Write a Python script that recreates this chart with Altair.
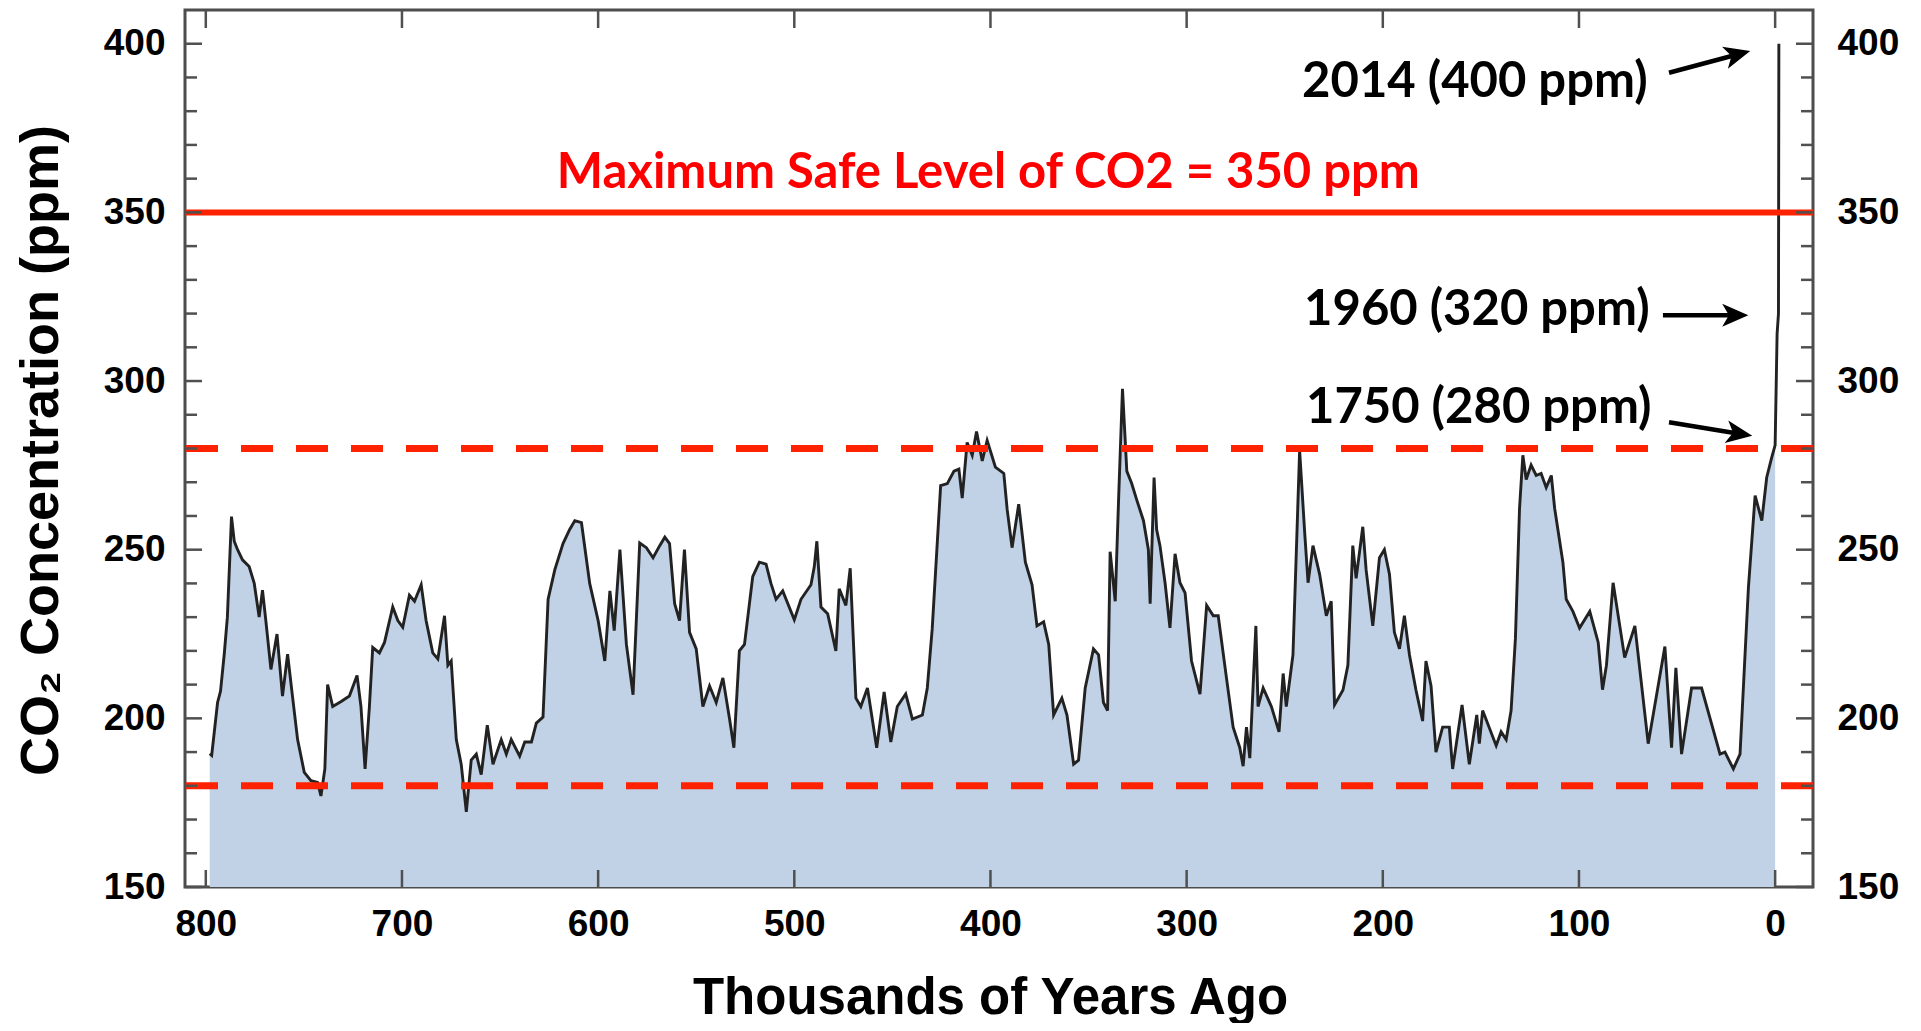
import altair as alt
import pandas as pd

# ---------------- data ----------------
kyr = [798, 797, 794, 792.5, 790.6, 789, 786.9, 785.5, 783.8, 781.3, 777.9, 775.3, 772.8, 771.1, 769.4,
       766.8, 763.7, 760.9, 758.3, 755.7, 753.2, 749.8, 746.4, 743, 741.3, 739.3, 737.9, 735.3, 731, 726.8,
       722.9, 720.9, 718.8, 716.6, 714.9, 711.5, 708.9, 704.7, 702.1, 699.6, 696.2, 693.6, 690.2, 687.7,
       684.3, 681.7, 678.3, 676.6, 674.9, 672.3, 669.8, 667.2, 664.7, 662.1, 659.6, 656.5, 653.6, 649.4,
       646.8, 644.3, 640, 637.4, 634, 631.5, 628.1, 625.5, 622.1, 617.9, 614.5, 611.9, 608.5, 604.3, 600,
       596.6, 594, 591.8, 588.9,
       585.6, 582.2, 578.8, 575.4, 572, 568.6, 566, 563.6, 561, 558.5, 556, 553.4, 550, 546.6, 543.2, 539.8,
       536.4, 533, 530.8, 528, 525.4, 521.2, 517.8, 514.4, 511.9, 509.3, 505.9, 500, 496.6, 491.5, 489.8,
       488.5, 486.4, 483, 478.8, 477.1, 473.7, 471.5, 468.6, 466.1, 462.7, 458, 454.2, 450.8, 447.5, 443.2,
       439.8, 434.7, 432.2, 429.7, 425.4, 422, 418.6, 416.1, 414.4, 411.9, 409.3, 407.1, 404.2, 401.7, 397.5,
       393.2, 391.5, 389, 385.6, 382.2, 378.8, 376.3, 372.9, 370.3, 367.8, 363.6, 361, 357.6, 355.1, 351.7,
       347.5, 344.9, 342.4, 340.3, 339, 336.4, 334.7, 332.7, 330.5, 328, 325.4, 322, 319.5, 318.6, 316.6,
       315.3, 313.6, 311, 308.5, 305.9, 303.4, 300.8, 297.5, 293.2, 289.8, 286.4, 283.9, 279.7, 276.3,
       272.9, 271.2, 269.5, 267.8, 264.7, 263.6, 261, 256.8, 252.9, 250.8, 249.2, 245.8, 242.4, 239.8,
       238.1, 235.6, 232.2, 228.8, 226.3, 224.6, 220.3, 217.8, 215.3, 213.6, 210.2, 208.5, 205.1, 201.7,
       199.2, 196.6, 194.1, 191.5, 189, 186.4, 183.1, 179.7, 178, 175.4, 172.9, 169.5, 166.1,
       164.4, 159.6, 155.9, 152.1, 150.8, 149.1, 142.2, 139.7, 137.1, 134.6, 132.4, 130.3, 128.6, 126.9,
       124.4, 121.8, 119.3, 116.7, 114.1, 112.4, 108.2, 106.5, 103.1, 99.7, 94.5, 90.2, 88, 86, 82.6, 76.7,
       71.5, 64.7, 56.2, 52.8, 50.6, 47.7, 42.6, 37.5, 28.1, 25.6, 21.3, 17.9, 13.6, 10.2, 6.8, 4.3, 1.9, 0]

co2 = [189.5, 189, 204.7, 208, 219, 230, 259.8, 252.5, 250, 247, 245, 240, 230, 238, 229,
       214.5, 225, 206.6, 219, 206, 193.7, 184, 181.5, 181, 177, 185, 210, 203.5, 205, 206.6,
       212.7, 203.5, 185, 203.5, 221, 219.4, 222.5, 233, 229, 227, 236.5, 234.7, 239.6, 229,
       219.4, 217.6, 230.4, 215.7, 217, 193.7, 186.4, 172.3, 187.6, 189.4, 183.3, 198, 186.4, 193.7,
       189.4, 193.7, 188.8, 193, 193, 198.6, 200.4, 235.3, 244, 251.8, 256, 258.6, 258, 240, 229,
       217, 237.8, 226, 250,
       222, 207, 252, 250.6, 247.6, 251.2, 253.7, 251.8, 234, 229, 250, 225.5, 220.6, 203.5, 209.6, 204.7,
       212, 199.8, 191.3, 220, 221.9, 242, 246.3, 245.7, 240, 235.3, 237.8, 229.2, 235.3, 239.6, 245,
       252.5, 233, 231, 220, 238.4, 233.5, 244.5, 206, 203.5, 209, 191.3, 207.8, 193, 203.5, 207.2,
       199.8, 201, 209, 226.5, 269, 269.6, 273.3, 273.9, 265.3, 281.8, 278, 285, 276.3, 282.4, 274.5,
       272.6, 262, 250.6, 263.5, 246.3, 239.6, 227.4, 228.6, 221.9, 201, 206, 201, 186.4, 187.6, 209,
       220.6, 218.8, 204.7, 202.3, 249.4, 234.7, 264.7, 297.7, 273.3, 269.6, 264.7, 258.6, 250, 234, 271.4,
       256, 251.2, 240.2, 226.8, 248.8, 240.2, 237.2, 217, 207.2, 233.5, 230.4, 230.4, 212, 197.4,
       191.3, 185.8, 197.4, 188.2, 227.4, 203.5, 209, 203.5, 196, 213.3, 203.5, 218.8, 279.4, 254.9,
       240.2, 251.2, 242.7, 230.4, 234.7, 204, 208.4, 215.7, 251.2, 241.5, 256.8, 244, 227.4, 247.6,
       250, 242.7, 225.5, 220.6, 230.4, 218.8, 208.4, 199.2, 217, 209.6, 190, 197.4, 197.4,
       185, 204, 186.4, 201, 192.5, 202.3, 191.9, 196, 193.7, 202.3, 223.7, 262.3, 278, 270.8,
       275.1, 272, 272.6, 268.4, 272, 262.3, 246.3, 235.3, 231.7, 226.8, 231.7, 222.5, 208.5, 215.7, 240.2, 218,
       227.4, 192.5, 221.3, 191.3, 215, 189.4, 209, 209, 189.4, 190, 185, 189.4, 239, 266, 258.6, 271.4, 277, 281]

# modern rise (1750 -> 1960 -> 2014)
modern_kyr = [0, -1.0, -1.7, -1.9]
modern_co2 = [281, 314, 320, 400]

y_major = [150, 200, 250, 300, 350, 400]
y_minor = [160, 170, 180, 190, 210, 220, 230, 240, 260, 270, 280, 290,
           310, 320, 330, 340, 360, 370, 380, 390]
x_ticks = [800, 700, 600, 500, 400, 300, 200, 100, 0]

safe_level = [350]
band_levels = [180, 280]

title_text = ["Maximum Safe Level of CO2 = 350 ppm"]
title_kyr = [401.1]
title_ppm = [357.2]

label_text = ["2014 (400 ppm)", "1960 (320 ppm)", "1750 (280 ppm)"]
label_kyr = [65.0, 64.0, 63.0]
label_ppm = [384.3, 316.6, 287.5]

arrow_start_kyr = [54.1, 57.2, 54.1]
arrow_start_ppm = [391.4, 319.5, 287.8]
arrow_head_kyr = [19.3, 20.5, 18.4]
arrow_head_ppm = [396.8, 319.5, 284.4]
arrow_angle = [75.1, 90.0, 99.1]

# ---------------- chart ----------------
W, H = 1628, 877
FONT = "Liberation Sans"
ANN_FONT = "Lato"
TICK_COLOR = "#505050"

xs = alt.Scale(domain=[-19.3, 810.6], reverse=True, nice=False, zero=False)
ys = alt.Scale(domain=[150, 410], nice=False, zero=False)

ice = pd.DataFrame({"kyr": kyr, "co2": co2})
full = pd.DataFrame({"kyr": kyr + modern_kyr, "co2": co2 + modern_co2})
full["i"] = range(len(full))

x_axis = alt.Axis(orient="bottom", values=x_ticks, format="d", labelFont=FONT, labelFontSize=37,
                  labelFontWeight="bold", labelColor="black", labelPadding=19, ticks=False, tickSize=0,
                  domain=False, grid=False, labelFlush=False, labelOverlap=False,
                  title="Thousands of Years Ago", titleFont=FONT, titleFontSize=51, titleFontWeight="bold",
                  titleColor="black", titleX=805, titleY=126, titleAlign="center",
                  titleBaseline="alphabetic")
y_axis_left = alt.Axis(orient="left", values=y_major, format="d", labelFont=FONT, labelFontSize=37,
                       labelFontWeight="bold", labelColor="black", labelPadding=20, ticks=False, tickSize=0,
                       domain=False, grid=False, labelFlush=False, labelOverlap=False,
                       title="CO₂ Concentration (ppm)", titleFont=FONT, titleFontSize=54,
                       titleFontWeight="bold", titleColor="black", titleAngle=270, titleX=-128, titleY=440,
                       titleAlign="center", titleBaseline="alphabetic")
y_axis_right = alt.Axis(orient="right", values=y_major, format="d", labelFont=FONT, labelFontSize=37,
                        labelFontWeight="bold", labelColor="black", labelPadding=24, ticks=False, tickSize=0,
                        domain=False, grid=False, title=None, labelFlush=False, labelOverlap=False)

area = alt.Chart(ice).mark_area(color="#c1d1e6", opacity=1).encode(
    x=alt.X("kyr:Q", scale=xs, axis=None),
    y=alt.Y("co2:Q", scale=ys, axis=y_axis_left),
    y2=alt.datum(150),
)

line = alt.Chart(full).mark_line(color="#222222", strokeWidth=2.9).encode(
    x=alt.X("kyr:Q", scale=xs, axis=None),
    y=alt.Y("co2:Q", scale=ys, axis=None),
    order="i:Q",
)

safe_rule = alt.Chart(pd.DataFrame({"v": safe_level})).mark_rule(color="#ff2200", strokeWidth=6).encode(
    y=alt.Y("v:Q", scale=ys, axis=None))

band_rule = alt.Chart(pd.DataFrame({"v": band_levels})).mark_rule(
    color="#ff2200", strokeWidth=7, strokeDash=[32, 23]).encode(
    y=alt.Y("v:Q", scale=ys, axis=None))

ymaj = pd.DataFrame({"v": y_major})
ymin = pd.DataFrame({"v": y_minor})
xt = pd.DataFrame({"v": x_ticks})

tick_layers = [
    alt.Chart(ymaj).mark_rule(color=TICK_COLOR, strokeWidth=2.5).encode(
        y=alt.Y("v:Q", scale=ys, axis=None), x=alt.value(0), x2=alt.value(17)),
    alt.Chart(ymin).mark_rule(color=TICK_COLOR, strokeWidth=2.5).encode(
        y=alt.Y("v:Q", scale=ys, axis=None), x=alt.value(0), x2=alt.value(12)),
    alt.Chart(ymaj).mark_rule(color=TICK_COLOR, strokeWidth=2.5).encode(
        y=alt.Y("v:Q", scale=ys, axis=y_axis_right), x=alt.value(W - 17), x2=alt.value(W)),
    alt.Chart(ymin).mark_rule(color=TICK_COLOR, strokeWidth=2.5).encode(
        y=alt.Y("v:Q", scale=ys, axis=None), x=alt.value(W - 12), x2=alt.value(W)),
    alt.Chart(xt).mark_rule(color=TICK_COLOR, strokeWidth=2.5).encode(
        x=alt.X("v:Q", scale=xs, axis=x_axis), y=alt.value(H - 17), y2=alt.value(H)),
    alt.Chart(xt).mark_rule(color=TICK_COLOR, strokeWidth=2.5).encode(
        x=alt.X("v:Q", scale=xs, axis=None), y=alt.value(0), y2=alt.value(18)),
]

title_layer = alt.Chart(pd.DataFrame({"t": title_text, "x": title_kyr, "y": title_ppm})).mark_text(
    font=ANN_FONT, fontSize=49, fontWeight="bold", color="#ff0000", align="center",
    baseline="alphabetic").encode(
    x=alt.X("x:Q", scale=xs, axis=None), y=alt.Y("y:Q", scale=ys, axis=None), text="t:N")

labels_layer = alt.Chart(pd.DataFrame({"t": label_text, "x": label_kyr, "y": label_ppm})).mark_text(
    font=ANN_FONT, fontSize=49, fontWeight="bold", color="black", align="right",
    baseline="alphabetic").encode(
    x=alt.X("x:Q", scale=xs, axis=None), y=alt.Y("y:Q", scale=ys, axis=None), text="t:N")

arrows = pd.DataFrame({"x": arrow_start_kyr, "y": arrow_start_ppm,
                       "x2": arrow_head_kyr, "y2": arrow_head_ppm, "a": arrow_angle})

arrow_lines = alt.Chart(arrows).mark_rule(color="black", strokeWidth=4.5).encode(
    x=alt.X("x:Q", scale=xs, axis=None), y=alt.Y("y:Q", scale=ys, axis=None),
    x2="x2:Q", y2="y2:Q")

arrow_heads = alt.Chart(arrows).mark_point(
    shape="M0,-1 L0.85,0.95 L0,0.45 L-0.85,0.95 Z", filled=True, color="black", opacity=1,
    size=720, strokeWidth=0).encode(
    x=alt.X("x2:Q", scale=xs, axis=None), y=alt.Y("y2:Q", scale=ys, axis=None),
    angle=alt.Angle("a:Q", scale=None))

chart = alt.layer(
    area, line, safe_rule, band_rule, *tick_layers, title_layer, labels_layer, arrow_lines, arrow_heads
).resolve_axis(x="independent", y="independent").properties(
    width=W, height=H,
    autosize=alt.AutoSizeParams(type="none"),
    padding={"left": 177, "top": 2, "right": 100, "bottom": 136},
).configure_view(stroke="#4d4d4d", strokeWidth=3)

chart.save("out.html", embed_options={"renderer": "svg", "actions": False})
